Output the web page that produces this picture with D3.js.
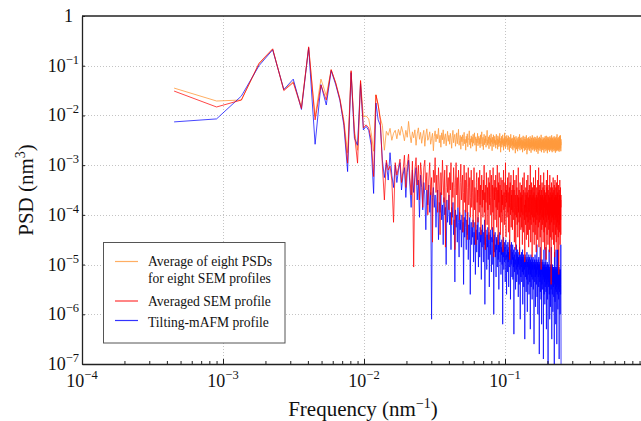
<!DOCTYPE html>
<html>
<head>
<meta charset="utf-8">
<script src="https://cdn.jsdelivr.net/npm/d3@7"></script>
<style>
    body { margin: 0; background: #fff; }
    svg { font-family: 'Liberation Serif', 'Times New Roman', serif; }
</style>
</head>
<body>
<svg id="chart" width="641" height="421"></svg>
<script>
//
// DATA
//
// frequency spacing of the PSD grid (nm^-1), point k sits at k * freqStep
const freqStep = 4.5e-4
// log10 of the PSD (nm^3), one value per frequency
const logPsdAvgEight = [
    -1.45, -1.71, -1.69, -0.97, -0.67, -1.48, -1.32, -1.82, -0.64, -2.02, -1.27, -1.60, -1.08, -1.34, -1.66, -2.10, -2.75, -1.12, -2.30, -2.70, -1.30, -2.03, -2.01, -2.07, -2.35, -2.72, -1.58, -1.78, -2.05,
    -2.20, -2.70, -2.32, -2.40, -2.26, -2.50, -2.36, -2.30, -2.47, -2.28, -2.40, -2.22, -2.35, -2.51, -2.30, -2.44, -2.12, -2.38, -2.55, -2.33,
    -2.45, -2.29, -2.60, -2.37, -2.25, -2.48, -2.34, -2.56, -2.41, -2.30, -2.62, -2.39, -2.27, -2.50, -2.44, -2.33, -2.58, -2.46, -2.36, -2.71,
    -2.42, -2.31, -2.53, -2.38, -2.47, -2.26, -2.55, -2.40, -2.64, -2.35, -2.49, -2.29, -2.57, -2.43, -2.37, -2.61, -2.45, -2.32, -2.52, -2.40,
    -2.58, -2.36, -2.47, -2.66, -2.41, -2.30, -2.55, -2.44, -2.38, -2.62, -2.49, -2.35, -2.57, -2.45, -2.28, -2.60, -2.51, -2.40, -2.68, -2.43,
    -2.53, -2.39, -2.61, -2.46, -2.34, -2.57, -2.48, -2.70, -2.42, -2.55, -2.37, -2.63, -2.50, -2.45, -2.31, -2.59, -2.47, -2.66, -2.41, -2.54,
    -2.44, -2.62, -2.38, -2.56, -2.49, -2.35, -2.60, -2.51, -2.43, -2.72, -2.47, -2.55, -2.36, -2.61, -2.50, -2.42, -2.58, -2.46, -2.65, -2.39,
    -2.57, -2.48, -2.33, -2.62, -2.52, -2.44, -2.69, -2.50, -2.38, -2.59, -2.47, -2.55, -2.41, -2.64, -2.53, -2.45, -2.30, -2.60, -2.49, -2.56,
    -2.43, -2.67, -2.51, -2.40, -2.58, -2.46, -2.62, -2.37, -2.54, -2.49, -2.71, -2.44, -2.57, -2.52, -2.39, -2.63, -2.48, -2.56, -2.42, -2.60,
    -2.50, -2.66, -2.45, -2.38, -2.59, -2.53, -2.47, -2.68, -2.41, -2.57, -2.49, -2.63, -2.44, -2.55, -2.36, -2.61, -2.52, -2.74, -2.46, -2.58,
    -2.42, -2.64, -2.50, -2.56, -2.39, -2.60, -2.48, -2.70, -2.53, -2.45, -2.62, -2.35, -2.57, -2.51, -2.66, -2.43, -2.59, -2.48, -2.54, -2.40,
    -2.63, -2.52, -2.46, -2.69, -2.55, -2.41, -2.60, -2.49, -2.57, -2.73, -2.44, -2.58, -2.50, -2.65, -2.38, -2.56, -2.61, -2.47, -2.54, -2.67,
    -2.45, -2.59, -2.52, -2.70, -2.48, -2.62, -2.40, -2.57, -2.66, -2.51, -2.44, -2.63, -2.55, -2.76, -2.49, -2.60, -2.42, -2.58, -2.68, -2.53,
    -2.61, -2.46, -2.57, -2.72, -2.50, -2.64, -2.43, -2.59, -2.54, -2.67, -2.48, -2.62, -2.38, -2.56, -2.70, -2.52, -2.60, -2.45, -2.65, -2.55,
    -2.49, -2.68, -2.58, -2.44, -2.63, -2.53, -2.74, -2.50, -2.61, -2.41, -2.57, -2.66, -2.52, -2.59, -2.47, -2.71, -2.55, -2.62, -2.43, -2.60,
    -2.54, -2.69, -2.48, -2.63, -2.57, -2.40, -2.65, -2.52, -2.78, -2.56, -2.46, -2.61, -2.58, -2.70, -2.50, -2.64, -2.44, -2.59, -2.67, -2.53,
    -2.62, -2.47, -2.71, -2.56, -2.60, -2.42, -2.66, -2.54, -2.63, -2.49, -2.75, -2.57, -2.45, -2.64, -2.52, -2.68, -2.58, -2.40, -2.61, -2.55,
    -2.70, -2.50, -2.63, -2.57, -2.46, -2.67, -2.53, -2.60, -2.43, -2.72, -2.56, -2.64, -2.48, -2.59, -2.69, -2.51, -2.62, -2.44, -2.66, -2.58,
    -2.52, -2.73, -2.60, -2.47, -2.65, -2.55, -2.41, -2.68, -2.57, -2.63, -2.50, -2.77, -2.59, -2.45, -2.64, -2.54, -2.70, -2.49, -2.61, -2.56,
    -2.66, -2.43, -2.62, -2.58, -2.71, -2.51, -2.60, -2.46, -2.67, -2.55, -2.63, -2.39, -2.59, -2.74, -2.53, -2.65, -2.48, -2.61, -2.57, -2.69,
    -2.50, -2.64, -2.56, -2.44, -2.70, -2.58, -2.62, -2.47, -2.66, -2.53, -2.75, -2.59, -2.45, -2.63, -2.55, -2.68, -2.51, -2.60, -2.42, -2.67,
    -2.57, -2.62, -2.48, -2.72, -2.54, -2.65, -2.41, -2.61, -2.58, -2.69, -2.50, -2.64, -2.46, -2.60, -2.76, -2.55, -2.63, -2.43, -2.67, -2.52,
    -2.59, -2.70, -2.47, -2.62, -2.56, -2.44, -2.68, -2.58, -2.64, -2.49, -2.73, -2.57, -2.61, -2.42, -2.66, -2.54, -2.69, -2.51, -2.60, -2.45,
    -2.65, -2.56, -2.71, -2.48, -2.62, -2.58, -2.40, -2.67, -2.55, -2.63, -2.74, -2.52, -2.60, -2.46, -2.69, -2.57, -2.64, -2.44, -2.61, -2.53,
    -2.68, -2.49, -2.63, -2.57, -2.72, -2.54, -2.42, -2.66, -2.59, -2.62, -2.47, -2.70, -2.56, -2.64, -2.45, -2.60, -2.75, -2.53, -2.61, -2.48,
    -2.66, -2.58, -2.43, -2.69, -2.55, -2.63, -2.50, -2.72, -2.57, -2.61, -2.38, -2.65, -2.59, -2.70, -2.52, -2.62, -2.46, -2.68, -2.56, -2.64,
    -2.49, -2.71, -2.58, -2.63, -2.44, -2.67, -2.55, -2.60, -2.73, -2.52, -2.65, -2.41, -2.62, -2.57, -2.69, -2.50, -2.64, -2.46, -2.61, -2.56,
    -2.40, -2.66, -2.53, -2.72, -2.48, -2.60
]
const logPsdSemAveraged = [
    -1.51, -1.83, -1.69, -0.95, -0.66, -1.50, -1.34, -1.86, -0.62, -2.09, -1.39, -1.69, -1.08, -1.35, -1.68, -2.15, -2.96, -1.10, -2.36, -2.96, -1.30, -2.25, -2.19, -2.25, -2.49, -3.23, -1.59, -1.79, -2.09,
    -3.00, -3.70, -2.90, -3.10, -3.02, -3.30, -4.15, -2.95, -3.20, -3.05, -2.88, -3.35, -3.12, -2.80, -3.45, -3.00, -2.78, -3.25, -3.60, -2.92,
    -5.05, -3.10, -2.85, -3.40, -3.00, -3.70, -2.95, -3.20, -3.85, -3.05, -2.90, -3.50, -3.15, -4.00, -3.30, -2.95, -3.60, -3.25, -4.55, -3.10,
    -3.35, -2.85, -3.55, -3.20, -3.95, -3.05, -3.40, -4.40, -3.15, -3.60, -2.90, -3.30, -3.75, -3.10, -4.65, -3.45, -3.00, -3.55, -3.25, -3.90,
    -3.15, -3.50, -2.95, -4.20, -3.35, -3.65, -3.05, -3.45, -4.70, -3.30, -2.95, -3.60, -3.25, -3.85, -3.10, -3.50, -4.10, -3.35, -2.98, -3.70,
    -3.40, -3.20, -4.35, -3.55, -3.00, -3.75, -3.30, -3.95, -3.15, -3.60, -4.50, -3.45, -3.05, -3.80, -3.50, -3.25, -4.05, -3.65, -3.10, -3.85,
    -3.55, -3.30, -4.25, -3.70, -3.05, -3.90, -3.45, -3.60, -4.60, -3.35, -3.15, -3.75, -3.50, -4.15, -3.25, -3.65, -3.95, -3.10, -3.80, -3.40,
    -4.40, -3.60, -3.20, -3.85, -3.50, -4.05, -3.30, -3.70, -3.00, -3.95, -3.55, -4.70, -3.40, -3.75, -3.15, -3.60, -4.20, -3.45, -3.90, -3.25,
    -3.70, -4.50, -3.35, -3.80, -3.10, -3.65, -4.00, -3.50, -3.20, -4.30, -3.75, -3.40, -3.95, -3.05, -3.60, -4.85, -3.45, -3.70, -3.30, -4.10,
    -3.55, -3.20, -3.85, -3.45, -4.25, -3.65, -3.00, -3.90, -3.50, -4.60, -3.35, -3.75, -3.15, -4.05, -3.60, -3.40, -4.40, -3.70, -3.25, -3.95,
    -3.50, -4.15, -3.30, -3.80, -3.60, -4.75, -3.45, -3.10, -3.90, -3.55, -4.20, -3.70, -3.35, -3.85, -2.95, -3.65, -4.45, -3.50, -3.75, -3.40,
    -4.05, -3.60, -3.25, -3.95, -3.55, -4.35, -3.70, -3.15, -3.85, -3.45, -4.90, -3.65, -3.35, -4.00, -3.75, -3.20, -4.25, -3.60, -3.90, -3.50,
    -3.80, -4.30, -3.40, -3.95, -3.65, -3.10, -4.10, -3.75, -3.50, -4.55, -3.85, -3.30, -4.00, -3.60, -3.90, -4.70, -3.55, -3.20, -4.05, -3.70,
    -3.45, -4.20, -3.85, -3.60, -4.45, -3.75, -3.05, -3.95, -3.65, -4.15, -3.50, -3.90, -4.80, -3.70, -3.35, -4.05, -3.80, -3.55, -4.30, -3.65,
    -3.95, -3.40, -4.25, -3.75, -3.60, -4.60, -3.85, -3.25, -4.00, -3.70, -3.50, -4.35, -3.90, -3.65, -3.15, -4.10, -3.80, -4.95, -3.55, -3.85,
    -3.70, -4.20, -3.45, -3.95, -3.60, -4.50, -3.80, -3.30, -4.05, -3.75, -3.55, -4.40, -3.90, -3.20, -4.15, -3.65, -3.85, -4.65, -3.50, -3.95,
    -3.75, -3.40, -4.30, -3.85, -3.60, -4.10, -3.00, -3.90, -4.55, -3.70, -3.50, -4.20, -3.80, -3.35, -4.00, -3.65, -4.85, -3.75, -3.45, -4.05,
    -3.90, -3.60, -4.35, -3.70, -3.25, -4.15, -3.85, -3.55, -4.60, -3.80, -3.40, -4.05, -3.95, -3.65, -4.40, -3.50, -3.10, -4.20, -3.85, -3.70,
    -4.75, -3.60, -3.95, -3.45, -4.10, -3.80, -3.65, -4.50, -3.90, -3.30, -4.00, -3.75, -3.55, -4.25, -3.85, -3.05, -3.95, -4.65, -3.70, -3.50,
    -4.15, -3.85, -3.40, -4.00, -3.70, -4.45, -3.60, -3.95, -3.20, -4.10, -3.80, -5.10, -3.65, -3.90, -3.50, -4.30, -3.75, -3.35, -4.05, -3.85,
    -3.60, -4.20, -3.95, -3.45, -4.55, -3.80, -3.70, -4.10, -3.15, -3.90, -4.35, -3.65, -3.85, -3.50, -4.70, -3.75, -3.40, -4.00, -3.90, -3.60,
    -4.25, -3.80, -3.55, -4.05, -3.70, -4.90, -3.85, -3.30, -3.95, -4.15, -3.65, -3.45, -4.40, -3.75, -3.90, -3.10, -4.00, -3.80, -4.60, -3.70,
    -3.50, -4.10, -3.85, -3.60, -4.30, -3.95, -3.40, -4.05, -3.75, -4.75, -3.65, -3.90, -3.20, -4.20, -3.85, -3.55, -4.45, -3.70, -3.95, -3.45,
    -4.00, -3.80, -5.40, -3.65, -3.95, -3.35, -4.15, -3.75, -3.60, -4.50, -3.90, -3.45, -4.05, -3.70, -3.85, -4.35, -3.55, -3.95, -3.25, -4.10,
    -3.80, -4.60, -3.70, -3.95, -3.50, -4.20, -3.85, -3.40, -4.00, -3.75, -4.85, -3.65, -3.90, -3.30, -4.10, -3.80, -3.60, -4.40, -3.95, -3.70,
    -3.45, -4.05, -3.85, -4.55, -3.65, -3.95, -3.35, -4.25, -3.75, -3.90, -4.70, -3.60, -3.80, -3.20, -4.15, -3.95, -3.55, -4.30, -3.70, -3.85,
    -4.45, -3.65, -3.40, -4.00, -3.80, -5.20, -3.70, -3.95, -3.50, -4.20, -3.85, -3.60, -4.35, -3.75, -3.30, -4.05, -3.90, -4.60, -3.65, -3.80,
    -3.45, -4.10, -3.70, -4.40, -3.60, -3.85
]
const logPsdAfm = [
    -2.13, -2.07, -1.61, -1.00, -0.68, -1.48, -1.27, -1.88, -0.64, -2.58, -1.38, -1.79, -1.10, -1.38, -1.70, -2.20, -3.13, -1.14, -2.46, -2.60, -1.36, -2.29, -2.22, -2.30, -2.60, -3.57, -1.75, -2.09, -2.20,
    -2.90, -3.25, -2.95, -3.30, -2.75, -3.20, -3.45, -3.00, -3.35, -3.10, -2.95, -3.50, -3.20, -3.05, -3.65, -3.15, -2.90, -3.40, -3.85, -3.10,
    -3.55, -3.25, -3.05, -3.70, -3.30, -4.05, -3.20, -3.45, -3.90, -3.35, -3.60, -4.30, -3.50, -3.80, -3.40, -3.95, -3.55, -6.10, -3.65, -3.45,
    -3.85, -3.60, -4.25, -3.70, -3.50, -4.50, -3.75, -3.95, -3.55, -4.10, -3.80, -4.60, -3.65, -4.00, -3.85, -5.00, -3.70, -4.15, -3.90, -3.60,
    -4.20, -3.95, -4.70, -3.85, -4.05, -3.75, -4.40, -4.10, -5.35, -3.90, -4.25, -4.00, -4.55, -3.85, -4.15, -4.85, -3.95, -4.30, -4.10, -4.65,
    -4.00, -4.35, -4.15, -5.40, -4.05, -4.45, -3.90, -4.25, -4.70, -4.10, -4.40, -3.95, -4.90, -4.20, -4.50, -4.05, -5.60, -4.30, -4.15, -4.60,
    -4.25, -4.45, -4.10, -4.95, -4.35, -4.60, -4.15, -5.20, -4.40, -4.30, -4.75, -4.20, -4.50, -4.05, -5.05, -4.45, -4.35, -4.85, -4.25, -4.55,
    -4.40, -5.30, -4.30, -4.65, -4.20, -4.50, -4.95, -4.35, -4.60, -4.10, -5.80, -4.45, -4.70, -4.30, -4.55, -5.10, -4.40, -4.65, -4.25, -4.90,
    -4.50, -4.35, -5.45, -4.60, -4.40, -4.80, -4.30, -4.70, -5.15, -4.45, -4.55, -4.25, -5.00, -4.65, -4.50, -6.00, -4.40, -4.75, -4.55, -4.35,
    -4.85, -4.60, -5.25, -4.45, -4.70, -4.50, -5.05, -4.65, -4.40, -4.90, -4.60, -5.50, -4.55, -4.75, -4.35, -4.95, -4.70, -4.55, -5.20, -4.65,
    -4.80, -4.50, -5.00, -4.70, -6.20, -4.60, -4.85, -4.45, -5.10, -4.75, -4.55, -4.95, -4.65, -5.35, -4.70, -4.50, -4.90, -4.80, -5.60, -4.60,
    -4.85, -4.70, -5.15, -4.55, -4.95, -4.75, -5.45, -4.65, -4.90, -4.50, -5.05, -4.80, -4.60, -5.70, -4.85, -4.70, -5.00, -4.55, -4.95, -5.25,
    -4.75, -4.90, -4.60, -5.30, -4.85, -5.05, -4.70, -6.40, -4.95, -4.80, -5.15, -4.65, -5.00, -4.90, -5.50, -4.75, -4.85, -5.10, -4.60, -5.35,
    -4.95, -4.80, -5.20, -4.70, -5.05, -4.90, -5.65, -4.85, -5.00, -4.75, -5.40, -4.95, -4.65, -5.10, -4.85, -6.10, -5.00, -4.80, -5.25, -4.90,
    -5.05, -4.75, -5.35, -4.95, -4.85, -5.15, -4.70, -5.80, -5.00, -4.90, -5.20, -4.80, -5.45, -5.05, -4.85, -5.10, -4.95, -6.50, -5.00, -4.80,
    -5.25, -4.95, -5.05, -4.85, -5.55, -5.00, -4.90, -5.30, -4.75, -5.15, -5.95, -4.95, -5.05, -4.85, -5.40, -5.00, -4.90, -5.20, -4.80, -5.60,
    -5.00, -5.10, -4.85, -5.35, -4.95, -5.05, -6.30, -4.90, -5.20, -5.00, -4.80, -5.45, -5.05, -4.95, -5.25, -4.85, -5.70, -5.00, -5.10, -4.90,
    -5.30, -5.00, -4.85, -5.50, -5.05, -4.95, -5.20, -6.60, -5.00, -5.10, -4.90, -5.35, -5.05, -4.80, -5.25, -5.00, -5.85, -4.95, -5.15, -5.05,
    -4.90, -5.40, -5.05, -5.20, -4.60, -5.65, -5.00, -5.10, -4.95, -5.30, -6.00, -5.05, -4.90, -5.25, -5.00, -5.45, -4.85, -5.15, -5.05, -6.80,
    -5.00, -5.20, -4.95, -5.35, -5.10, -4.65, -5.55, -5.05, -5.25, -4.90, -5.70, -5.00, -5.15, -4.95, -6.20, -5.10, -5.00, -5.40, -4.90, -5.20,
    -5.05, -5.50, -5.15, -4.95, -5.30, -5.05, -6.90, -5.10, -5.00, -5.25, -4.70, -5.60, -5.15, -5.05, -5.35, -5.00, -5.80, -5.10, -4.95, -5.45,
    -5.15, -5.05, -5.30, -4.65, -5.55, -5.20, -5.10, -6.30, -5.05, -5.25, -5.00, -5.40, -5.15, -4.95, -5.70, -5.10, -5.30, -5.00, -5.20, -7.00,
    -5.10, -5.25, -5.00, -5.45, -5.15, -5.05, -5.35, -4.70, -5.60, -5.20, -5.10, -6.10, -5.25, -5.05, -5.40, -5.15, -5.00, -5.85, -5.20, -5.10,
    -5.30, -5.05, -5.50, -5.20, -4.65, -5.40, -5.15, -6.50, -5.10, -5.25, -5.05, -5.60, -5.20, -5.00, -5.35, -5.15, -5.95, -5.10, -5.30, -5.05,
    -5.45, -5.20, -5.10, -5.65, -5.05, -5.30, -5.15, -7.10, -5.20, -4.75, -5.40, -5.25, -5.10, -5.75, -5.15, -5.35, -5.05, -5.50, -5.20, -6.20,
    -5.10, -5.30, -4.70, -5.55, -5.25, -5.15, -5.45, -5.05, -6.60, -5.20, -5.35, -5.10, -5.60, -5.25, -4.70, -5.40, -5.20, -5.90, -5.15, -5.30,
    -4.70, -5.50, -5.25, -5.15, -5.70, -5.20, -5.35, -5.05, -6.90, -5.25, -5.40, -5.10, -5.55, -5.30, -5.15, -5.45, -5.25, -6.00, -5.20, -5.35,
    -5.10, -5.60, -5.25, -4.60, -5.40, -7.00
]
const seriesLabels = [
    ['Average of eight PSDs', 'for eight SEM profiles'],
    ['Averaged SEM profile'],
    ['Tilting-mAFM profile']
]
const seriesColors = ['#ff9a3c', '#ff0000', '#0000ff']
const xMajorExps = [-4, -3, -2, -1, 0]
const yMajorExps = [-7, -6, -5, -4, -3, -2, -1, 0]

//
// LAYOUT
//
const chartW = 641
const plotLeft = 82
const plotTop = 16
const plotBottom = 364
const decadeX = 141

const svg = d3.select('#chart')

const x = d3.scaleLog().domain([1e-4, 1]).range([plotLeft, plotLeft + 4 * decadeX])
const y = d3.scaleLog().domain([1e-7, 1]).range([plotBottom, plotTop])

// minor ticks: 2..9 in each decade
const xMinors = []
xMajorExps.slice(0, -1).forEach(e => {
    for (let m = 2; m <= 9; m++) xMinors.push(m * Math.pow(10, e))
})
const xMajors = xMajorExps.map(e => Math.pow(10, e))
const yMajors = yMajorExps.map(e => Math.pow(10, e))

// dotted grid at the major decades
const grid = svg.append('g').attr('class', 'grid')
    .attr('stroke', '#c4c4c4')
    .attr('stroke-width', 1)
    .attr('stroke-dasharray', '1,2')
grid.selectAll('line.gy')
    .data(yMajors.filter(v => v < 1 && v > 1e-7))
    .join('line')
    .attr('x1', plotLeft + 3).attr('x2', chartW)
    .attr('y1', d => Math.round(y(d)) + 0.5).attr('y2', d => Math.round(y(d)) + 0.5)
grid.selectAll('line.gx')
    .data(xMajors.filter(v => v > 1e-4 && v < 1))
    .join('line')
    .attr('y1', plotTop).attr('y2', plotBottom - 3)
    .attr('x1', d => Math.round(x(d)) + 0.5).attr('x2', d => Math.round(x(d)) + 0.5)

// clip for the data lines
svg.append('clipPath').attr('id', 'plot-clip')
    .append('rect')
    .attr('x', plotLeft).attr('y', plotTop)
    .attr('width', chartW - plotLeft).attr('height', plotBottom - plotTop)

const line = d3.line()
    .x(d => x(d.f))
    .y(d => y(d.p))

const toPoints = logs => logs.map((v, i) => ({ f: (i + 1) * freqStep, p: Math.pow(10, v) }))
const series = [logPsdAvgEight, logPsdSemAveraged, logPsdAfm].map(toPoints)

// draw order: orange, blue, red (red sits on top of blue)
const plot = svg.append('g').attr('clip-path', 'url(#plot-clip)')
;[0, 2, 1].forEach(i => {
    plot.append('path')
        .datum(series[i])
        .attr('d', line)
        .attr('fill', 'none')
        .attr('stroke', seriesColors[i])
        .attr('stroke-width', 1)
        .attr('stroke-opacity', i === 0 ? 0.8 : 0.72)
        .attr('stroke-linejoin', 'round')
})

//
// AXES
//
const axisColor = '#222'
const gx = svg.append('g').attr('transform', `translate(0,${plotBottom})`)
gx.call(d3.axisBottom(x).tickValues(xMajors).tickSizeInner(-5).tickSizeOuter(0).tickFormat(''))
gx.append('g').call(d3.axisBottom(x).tickValues(xMinors).tickSizeInner(-3).tickSizeOuter(0).tickFormat(''))
    .select('.domain').remove()

const gy = svg.append('g').attr('transform', `translate(${plotLeft},0)`)
gy.call(d3.axisLeft(y).tickValues(yMajors).tickSizeInner(-3).tickSizeOuter(0).tickFormat(''))

svg.selectAll('.domain').attr('stroke', axisColor).attr('stroke-width', 1.3)
svg.selectAll('.tick line').attr('stroke', axisColor).attr('stroke-width', 1)

// top spine
svg.append('line')
    .attr('x1', plotLeft).attr('x2', chartW)
    .attr('y1', plotTop).attr('y2', plotTop)
    .attr('stroke', axisColor).attr('stroke-width', 1.3)

// power-of-ten labels
const powerLabel = (sel, exp) => {
    if (exp === 0) {
        sel.text('1')
        return
    }
    sel.append('tspan').text('10')
    sel.append('tspan')
        .attr('dy', -8)
        .attr('font-size', 12.5)
        .text('\u2212' + Math.abs(exp))
}

svg.append('g').selectAll('text')
    .data(yMajorExps)
    .join('text')
    .attr('x', d => (d === 0 ? 73 : 79))
    .attr('y', d => y(Math.pow(10, d)) + 6)
    .attr('text-anchor', 'end')
    .attr('font-size', 18)
    .attr('fill', '#111')
    .each(function (d) { powerLabel(d3.select(this), d) })

svg.append('g').selectAll('text')
    .data(xMajorExps.filter(e => e < 0))
    .join('text')
    .attr('x', d => x(Math.pow(10, d)))
    .attr('y', 386.5)
    .attr('text-anchor', 'middle')
    .attr('font-size', 18)
    .attr('fill', '#111')
    .each(function (d) { powerLabel(d3.select(this), d) })

// axis titles
const xTitle = svg.append('text')
    .attr('x', 363).attr('y', 416)
    .attr('text-anchor', 'middle')
    .attr('font-size', 21)
    .attr('fill', '#111')
xTitle.append('tspan').text('Frequency (nm')
xTitle.append('tspan').attr('dy', -8).attr('font-size', 14).text('\u22121')
xTitle.append('tspan').attr('dy', 8).text(')')

const yTitle = svg.append('text')
    .attr('transform', 'translate(33,190) rotate(-90)')
    .attr('text-anchor', 'middle')
    .attr('font-size', 21)
    .attr('fill', '#111')
yTitle.append('tspan').text('PSD (nm')
yTitle.append('tspan').attr('dy', -8).attr('font-size', 14).text('3')
yTitle.append('tspan').attr('dy', 8).text(')')

//
// LEGEND
//
const legend = svg.append('g').attr('class', 'legend')
legend.append('rect')
    .attr('x', 103.5).attr('y', 242.5)
    .attr('width', 181.5).attr('height', 100.5)
    .attr('fill', '#fff')
    .attr('stroke', '#555')
    .attr('stroke-width', 1)

const legendLineY = [261.5, 301, 320.5]
const legendTextY = [[266, 283], [305.5], [326.5]]
seriesLabels.forEach((lines, i) => {
    legend.append('line')
        .attr('x1', 115).attr('x2', 138)
        .attr('y1', legendLineY[i]).attr('y2', legendLineY[i])
        .attr('stroke', seriesColors[i])
        .attr('stroke-opacity', 0.8)
        .attr('stroke-width', 1.2)
    lines.forEach((t, j) => {
        legend.append('text')
            .attr('x', 148).attr('y', legendTextY[i][j])
            .attr('font-size', 13.6)
            .attr('fill', '#111')
            .text(t)
    })
})
</script>
</body>
</html>
